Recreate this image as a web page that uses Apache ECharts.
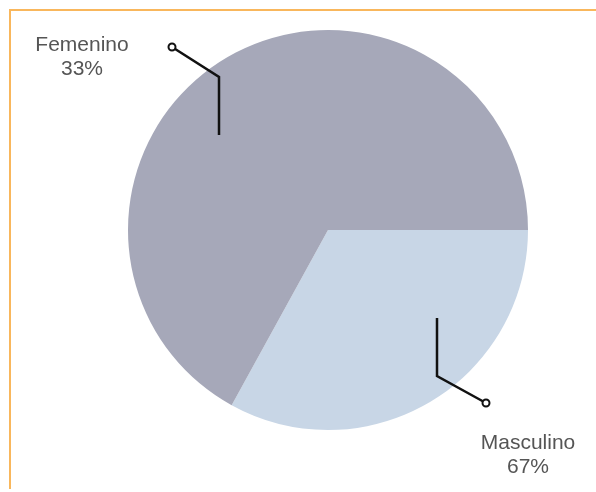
<!DOCTYPE html>
<html>
<head>
<meta charset="utf-8">
<script src="https://cdn.jsdelivr.net/npm/echarts@6/dist/echarts.min.js"></script>
<style>
html,body{margin:0;padding:0;background:#fff;}
#chart{width:596px;height:492px;}
</style>
</head>
<body>
<div id="chart"></div>
<script>
// Data (slice sizes as drawn; printed percentages as shown in the reference)
const categories = ["Masculino", "Femenino"];
const sliceValues = [33, 67];
const printedPercents = ["67%", "33%"];
const sliceColors = ["#c8d6e6", "#a6a8b9"];

// Label placement (layout only)
const labelCenters = [[528, 455], [82, 57]];
const leaderPoints = [
  [[437, 318], [437, 376], [486, 403]],
  [[219, 135], [219, 77], [172, 47]]
];

const chart = echarts.init(document.getElementById('chart'), null, {renderer: 'canvas'});

const option = {
  backgroundColor: '#ffffff',
  animation: false,
  graphic: [
    {type: 'polyline', shape: {points: [[10, 489], [10, 10], [596, 10]]},
     style: {stroke: '#f9b75c', lineWidth: 2, fill: null}, z: 10},
    ...leaderPoints.map(p => ({
      type: 'polyline', shape: {points: p},
      style: {stroke: '#111111', lineWidth: 2.5, fill: null}, z: 99
    })),
    ...leaderPoints.map(p => ({
      type: 'circle', shape: {cx: p[2][0], cy: p[2][1], r: 3.5},
      style: {fill: '#ffffff', stroke: '#111111', lineWidth: 2}, z: 100
    }))
  ],
  series: [{
    type: 'pie',
    center: [328, 230],
    radius: 200,
    startAngle: 0,
    clockwise: true,
    data: categories.map((c, i) => ({
      name: c, value: sliceValues[i], itemStyle: {color: sliceColors[i]}
    })),
    label: {
      show: true,
      position: 'outside',
      formatter: p => p.name + '\n' + printedPercents[p.dataIndex],
      fontFamily: 'Liberation Sans, Arial, sans-serif',
      fontSize: 21,
      lineHeight: 24,
      color: '#555555',
      align: 'center'
    },
    labelLine: {show: false},
    labelLayout: function (params) {
      const i = params.dataIndex;
      return {
        x: labelCenters[i][0],
        y: labelCenters[i][1],
        align: 'center',
        verticalAlign: 'middle'
      };
    },
    emphasis: {disabled: true}
  }]
};
chart.setOption(option);
</script>
</body>
</html>
